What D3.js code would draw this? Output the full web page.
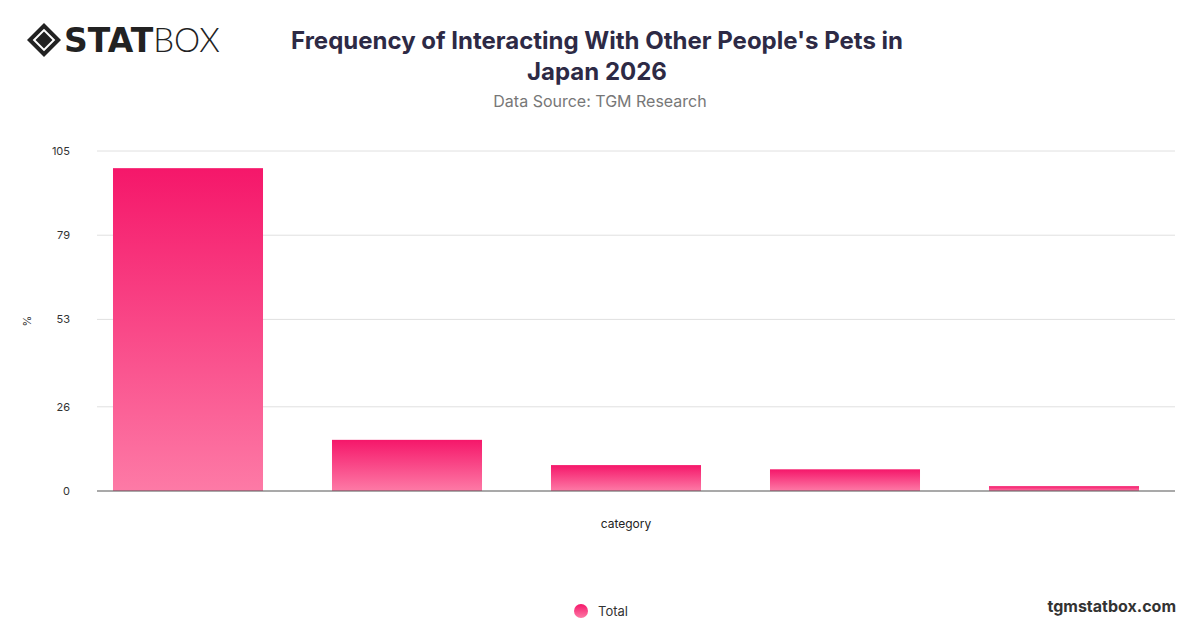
<!DOCTYPE html>
<html>
<head>
<meta charset="utf-8">
<script src="https://cdn.jsdelivr.net/npm/d3@7"></script>
<style>
  body { margin: 0; background: #fff; font-family: Inter, "Noto Sans", sans-serif; }
</style>
</head>
<body>
<svg id="chart" width="1200" height="628"></svg>
<script>
// values
const categories = ["A", "B", "C", "D", "E"];
const values = [99.7, 15.8, 8.0, 6.7, 1.5];
const tickValues = [0, 26, 53, 79, 105];

const width = 1200, height = 628;
const margin = {top: 151, right: 25, bottom: 137, left: 97};

const svg = d3.select("#chart");

const defs = svg.append("defs");
const grad = defs.append("linearGradient")
    .attr("id", "barGrad")
    .attr("x1", 0).attr("y1", 0).attr("x2", 0).attr("y2", 1);
grad.append("stop").attr("offset", "0%").attr("stop-color", "#f5176a");
grad.append("stop").attr("offset", "100%").attr("stop-color", "#fd7aa6");

// bars sit a little left of the plot centre in the reference
const x = d3.scaleBand()
    .domain(categories)
    .range([78.5, 1173.5])
    .paddingInner(0.315)
    .paddingOuter(0.1575);

const y = d3.scaleLinear()
    .domain([0, 105])
    .range([height - margin.bottom, margin.top]);

// grid lines
svg.append("g")
    .selectAll("line")
    .data(tickValues.filter(d => d > 0))
    .join("line")
    .attr("x1", margin.left).attr("x2", width - margin.right)
    .attr("y1", d => y(d)).attr("y2", d => y(d))
    .attr("stroke", "#e0e0e0");

// y tick labels
svg.append("g")
    .selectAll("text")
    .data(tickValues)
    .join("text")
    .attr("x", 70)
    .attr("y", d => y(d) + 4)
    .attr("text-anchor", "end")
    .attr("font-size", 11)
    .attr("fill", "#333")
    .text(d => d);

svg.append("text")
    .attr("transform", "translate(31," + y(52.5) + ") rotate(-90)")
    .attr("text-anchor", "middle")
    .attr("font-size", 11)
    .attr("fill", "#333")
    .text("%");

// bars
svg.append("g")
    .selectAll("rect")
    .data(values)
    .join("rect")
    .attr("x", (d, i) => x(categories[i]))
    .attr("width", x.bandwidth())
    .attr("y", d => y(d))
    .attr("height", d => y(0) - y(d))
    .attr("fill", "url(#barGrad)");

// baseline
svg.append("line")
    .attr("x1", margin.left).attr("x2", width - margin.right)
    .attr("y1", y(0)).attr("y2", y(0))
    .attr("stroke", "#555").attr("stroke-width", 1.2);

svg.append("text")
    .attr("x", 626)
    .attr("y", 528)
    .attr("text-anchor", "middle")
    .attr("font-size", 12)
    .attr("fill", "#222")
    .text("category");

// title
svg.append("text")
    .attr("x", 597).attr("y", 49)
    .attr("text-anchor", "middle")
    .attr("font-size", 24).attr("font-weight", "bold")
    .attr("fill", "#2d2a45")
    .text("Frequency of Interacting With Other People's Pets in");
svg.append("text")
    .attr("x", 597).attr("y", 80)
    .attr("text-anchor", "middle")
    .attr("font-size", 24).attr("font-weight", "bold")
    .attr("fill", "#2d2a45")
    .text("Japan 2026");
svg.append("text")
    .attr("x", 600).attr("y", 107)
    .attr("text-anchor", "middle")
    .attr("font-size", 16)
    .attr("fill", "#777")
    .text("Data Source: TGM Research");

// logo
const logo = svg.append("g").attr("transform", "translate(44,40)");
logo.append("rect")
    .attr("x", -12).attr("y", -12).attr("width", 24).attr("height", 24)
    .attr("transform", "rotate(45)")
    .attr("fill", "#222");
logo.append("rect")
    .attr("x", -7).attr("y", -7).attr("width", 14).attr("height", 14)
    .attr("transform", "rotate(45)")
    .attr("fill", "none").attr("stroke", "#fff").attr("stroke-width", 2);
svg.append("text")
    .attr("x", 64).attr("y", 52)
    .attr("font-size", 33)
    .attr("fill", "#222")
    .html('<tspan font-weight="900" font-family="DejaVu Sans">STAT</tspan><tspan font-weight="300" font-family="Lato">BOX</tspan>');

// legend
svg.append("circle")
    .attr("cx", 581).attr("cy", 611).attr("r", 7)
    .attr("fill", "url(#barGrad)");
svg.append("text")
    .attr("x", 598).attr("y", 616)
    .attr("font-size", 13)
    .attr("fill", "#333")
    .text("Total");

svg.append("text")
    .attr("x", 1176).attr("y", 612)
    .attr("text-anchor", "end")
    .attr("font-size", 16).attr("font-weight", "bold")
    .attr("fill", "#333")
    .text("tgmstatbox.com");
</script>
</body>
</html>
